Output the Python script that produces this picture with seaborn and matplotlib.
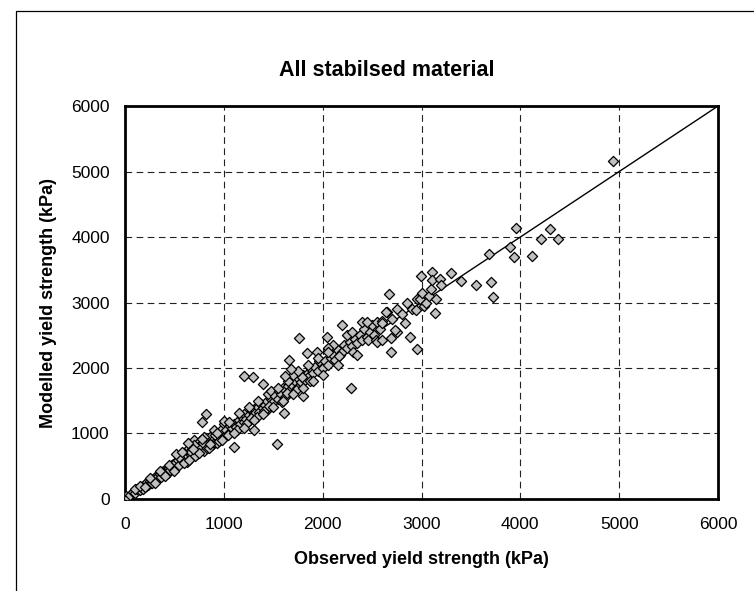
import numpy as np
import pandas as pd
import matplotlib
matplotlib.use("Agg")
import matplotlib.pyplot as plt
from matplotlib.patches import Rectangle
import seaborn as sns

# ── DATA (kPa) ───────────────────────────────────────────────
observed = [
    # 0 - 500
    0, 20, 10, 30, 50, 80, 100, 120, 140, 150, 160, 180, 200, 210, 220, 230,
    250, 260, 270, 280, 300, 310, 320, 330, 350, 360, 370, 380, 400, 410,
    420, 430, 450, 460, 470, 480, 490, 500,
    100, 150, 200, 250, 300, 350, 400, 450, 500,
    # 500 - 1000
    520, 540, 550, 560, 580, 600, 610, 620, 640, 650, 650, 660, 680, 700, 700,
    700, 720, 730, 750, 750, 760, 780, 800, 800, 820, 840, 850, 860, 880, 900,
    900, 920, 940, 950, 960, 980, 1000, 1000, 776, 820, 590, 630, 670, 710,
    740, 790, 830, 870, 910, 930, 970,
    550, 600, 650, 700, 750, 800, 850, 900, 950, 1000, 520, 580, 640, 690,
    780, 860, 930, 980,
    # 1000 - 1500
    1020, 1050, 1060, 1080, 1100, 1120, 1150, 1160, 1180, 1200, 1200, 1220,
    1250, 1260, 1280, 1300, 1300, 1320, 1350, 1360, 1380, 1400, 1420, 1440,
    1450, 1480, 1500, 1204, 1298, 1103, 1002, 1393, 1310, 1040, 1130, 1230,
    1270, 1340, 1410, 1460,
    1050, 1100, 1150, 1200, 1250, 1300, 1350, 1400, 1450, 1500, 1480,
    # 1500 - 2000
    1520, 1550, 1560, 1580, 1600, 1620, 1650, 1660, 1680, 1700, 1720, 1740,
    1750, 1780, 1800, 1820, 1850, 1860, 1880, 1900, 1920, 1950, 1980, 2000,
    1535, 1657, 1845, 1940, 1805, 1612, 1764, 1700, 1590, 1640, 1730, 1790,
    1870, 1960,
    1550, 1600, 1650, 1700, 1750, 1800, 1850, 1900, 1950, 2000, 1620, 1680,
    # 2000 - 2600
    2020, 2050, 2080, 2100, 2120, 2150, 2180, 2200, 2220, 2250, 2280, 2300,
    2330, 2350, 2380, 2400, 2420, 2450, 2480, 2500, 2520, 2550, 2580, 2600,
    2048, 2193, 2284, 2100, 2400, 2160, 2310, 2460, 2540,
    2050, 2150, 2250, 2350, 2450, 2550, 2650, 2750, 2050, 2300,
    # 2600 - 3200
    2598, 2598, 2641, 2672, 2689, 2689, 2700, 2732, 2750, 2800, 2834, 2850,
    2881, 2900, 2945, 2950, 2958, 2980, 2999, 3000, 3020, 3050, 3080, 3100,
    3104, 3104, 3137, 3150, 3191, 3198,
    # 3200 +
    3299, 3403, 3552, 3687, 3704, 3721, 3896, 3940, 3954, 4122, 4210, 4301,
    4379, 4938,
]

modelled = [
    # 0 - 500
    0, 30, 50, 20, 60, 110, 90, 150, 170, 130, 190, 160, 230, 200, 260, 210,
    280, 240, 250, 300, 330, 280, 300, 350, 380, 340, 390, 420, 410, 450,
    430, 400, 480, 440, 500, 520, 540, 470,
    150, 200, 180, 320, 250, 420, 350, 520, 430,
    # 500 - 1000
    560, 600, 520, 640, 590, 620, 700, 680, 600, 720, 780, 650, 760, 700, 800,
    900, 740, 690, 820, 870, 760, 780, 880, 740, 850, 800, 900, 950, 830, 920,
    860, 980, 890, 1000, 950, 1020, 980, 1080, 1171, 1293, 640, 560, 720, 660,
    800, 850, 780, 820, 980, 860, 1050,
    640, 550, 600, 820, 700, 950, 780, 1050, 880, 1150, 680, 720, 860, 760,
    920, 840, 1000, 900,
    # 1000 - 1500
    1050, 1010, 1120, 1080, 1150, 1100, 1200, 1140, 1250, 1180, 1300, 1220,
    1280, 1200, 1350, 1290, 1380, 1310, 1400, 1330, 1450, 1390, 1440, 1500,
    1380, 1520, 1480, 1883, 1863, 799, 1196, 1756, 1050, 980, 1060, 1160,
    1230, 1250, 1350, 1420,
    1180, 1000, 1320, 1080, 1400, 1200, 1500, 1300, 1600, 1400, 1650,
    # 1500 - 2000
    1580, 1520, 1650, 1600, 1700, 1560, 1720, 1650, 1780, 1730, 1800, 1700,
    1850, 1780, 1900, 1820, 1930, 1880, 1980, 1920, 2020, 1960, 2080, 2000,
    835, 2122, 2234, 2249, 1577, 1309, 2454, 1900, 1480, 1620, 1660, 1860,
    1800, 2100,
    1700, 1500, 1800, 1600, 1950, 1700, 2050, 1800, 2150, 1900, 1880, 1980,
    # 2000 - 2600
    2100, 2050, 2150, 2200, 2120, 2280, 2200, 2250, 2350, 2300, 2400, 2330,
    2450, 2380, 2500, 2430, 2600, 2480, 2550, 2650, 2500, 2700, 2600, 2720,
    2469, 2657, 1690, 2350, 2700, 2180, 2250, 2420, 2420,
    2300, 2050, 2500, 2200, 2700, 2400, 2850, 2550, 2250, 2550,
    # 2600 - 3200
    2683, 2428, 2855, 3130, 2454, 2249, 2750, 2581, 2900, 2820, 2688, 3000,
    2478, 2900, 2886, 3050, 2295, 3050, 3405, 3150, 2950, 3000, 3100, 3200,
    3471, 3345, 2836, 3050, 3359, 3268,
    # 3200 +
    3446, 3334, 3268, 3737, 3314, 3089, 3853, 3695, 4143, 3716, 3965, 4123,
    3965, 5157,
]

line_xy = [0, 6000]                    # 1:1 line
ticks = [0, 1000, 2000, 3000, 4000, 5000, 6000]

df = pd.DataFrame({"Observed": observed, "Modelled": modelled})

# ── STYLE ─────────────────────────────────────────────────────
sns.set_style("white")
plt.rcParams["font.family"] = ["Liberation Sans", "DejaVu Sans"]
plt.rcParams["text.color"] = "black"
plt.rcParams["axes.labelcolor"] = "black"

fig = plt.figure(figsize=(7.54, 5.91), dpi=100)
ax = fig.add_axes([0.1658, 0.1557, 0.7865, 0.6649])

# outer chart frame (runs off the right/bottom like the original)
fig.patches.append(Rectangle((16 / 754, -0.05), 1.2, 1 - 11 / 591 + 0.05,
                             transform=fig.transFigure, fill=False,
                             edgecolor="black", linewidth=0.9, zorder=0))

ax.plot(line_xy, line_xy, color="black", lw=1.0, zorder=2)

sns.scatterplot(data=df, x="Observed", y="Modelled", marker="D", s=27,
                color="#C0C0C0", edgecolor="black", linewidth=0.9,
                ax=ax, zorder=3, legend=False)

ax.set_xlim(0, 6000)
ax.set_ylim(0, 6000)
ax.set_xticks(ticks)
ax.set_yticks(ticks)
ax.grid(True, linestyle=(0, (6, 4)), color="#222222", linewidth=0.8)
ax.set_axisbelow(True)
for sp in ax.spines.values():
    sp.set_visible(True)
    sp.set_color("black")
    sp.set_linewidth(2.0)
ax.tick_params(axis="both", length=0, labelsize=12.5, colors="black")
ax.tick_params(axis="x", pad=13)
ax.tick_params(axis="y", pad=11)

ax.set_xlabel("Observed yield strength (kPa)", fontsize=13, fontweight="bold",
              labelpad=14)
ax.set_ylabel("Modelled yield strength (kPa)", fontsize=13, fontweight="bold",
              labelpad=10)
fig.text(387 / 754, 1 - 70 / 591, "All stabilsed material", fontsize=15.5,
         fontweight="bold", ha="center", va="center")

plt.savefig("out.png", dpi=100, facecolor="white")
plt.close()
